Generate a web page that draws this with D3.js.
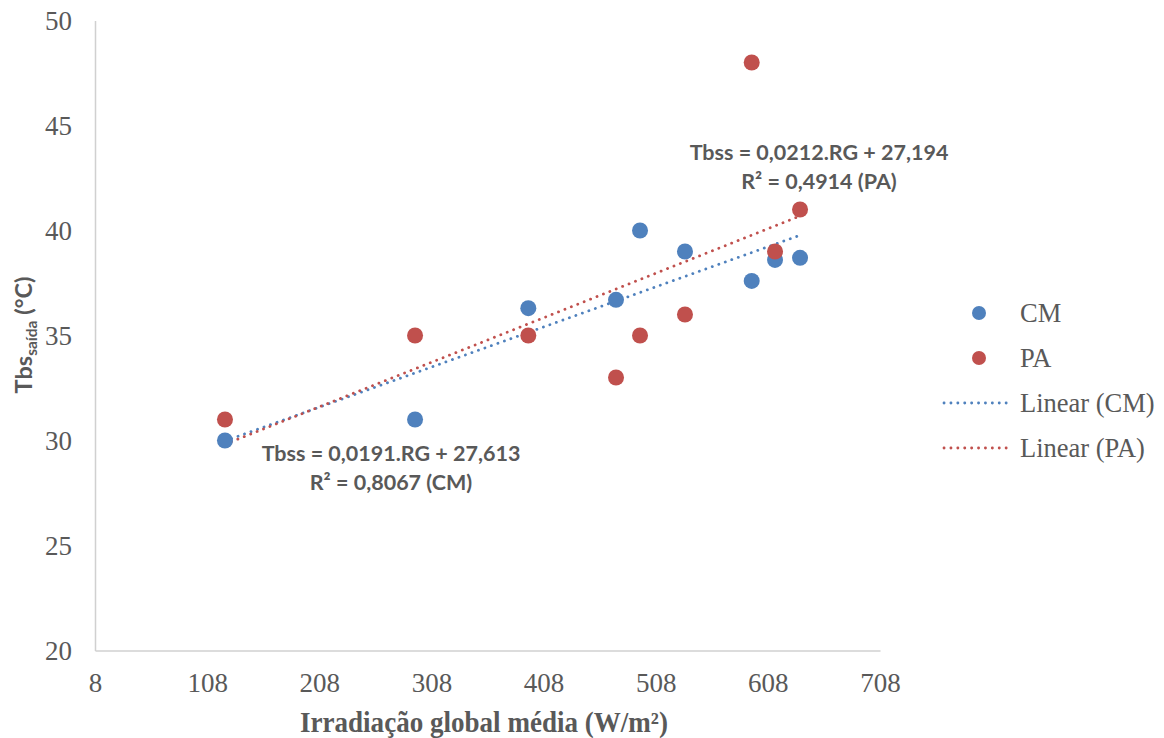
<!DOCTYPE html>
<html>
<head>
<meta charset="utf-8">
<script src="https://cdn.jsdelivr.net/npm/d3@7"></script>
<style>
  html, body { margin: 0; padding: 0; background: #fff; }
  svg { display: block; }
</style>
</head>
<body>
<div id="chart"></div>
<script>
// ---- data ----
const irradiance = [123.9, 293.4, 394.4, 472.6, 494.0, 534.1, 593.6, 614.4, 636.7];
const tbsCM = [30, 31, 36.3, 36.7, 40, 39, 37.6, 38.6, 38.7];
const tbsPA = [31, 35, 35, 33, 35, 36, 48, 39, 41];
const seriesNames = ['CM', 'PA'];
// trend line coefficients, as printed on the chart
const trendSlope = [0.0191, 0.0212];
const trendIntercept = [27.613, 27.194];
const trendEqText = ['Tbss = 0,0191.RG + 27,613', 'Tbss = 0,0212.RG + 27,194'];
const trendR2Text = ['R² = 0,8067 (CM)', 'R² = 0,4914 (PA)'];
const xTicks = [8, 108, 208, 308, 408, 508, 608, 708];
const yTicks = [20, 25, 30, 35, 40, 45, 50];

const width = 1164, height = 738;
const colors = ['#4F81BD', '#C0504D'];
const textGrey = '#595959';
const serif = '"Liberation Serif", "Times New Roman", serif';
const sans = 'Lato, "Open Sans", sans-serif';

const svg = d3.select('#chart').append('svg')
  .attr('width', width)
  .attr('height', height);

const xScale = d3.scaleLinear().domain([8, 708]).range([95, 880]);
const yScale = d3.scaleLinear().domain([20, 50]).range([650.5, 20.5]);

// axes
const xAxis = d3.axisBottom(xScale).tickValues(xTicks).tickSize(0).tickPadding(22);
const yAxis = d3.axisLeft(yScale).tickValues(yTicks).tickSize(0).tickPadding(23);

const gx = svg.append('g')
  .attr('transform', `translate(0,${yScale(20)})`)
  .call(xAxis);
const gy = svg.append('g')
  .attr('transform', `translate(${xScale(8)},0)`)
  .call(yAxis);

[gx, gy].forEach(g => {
  g.select('.domain').attr('stroke', '#D0D0D0').attr('stroke-width', 1.5);
  g.selectAll('text')
    .style('font-family', serif)
    .style('font-size', '27px')
    .attr('fill', textGrey);
});
gy.selectAll('text').attr('dy', '0.33em');

// trend lines
const trend = svg.append('g').attr('class', 'trend-lines');
const xExtent = d3.extent(irradiance);
seriesNames.forEach((name, i) => {
  const pts = xExtent.map(x => [x, trendSlope[i] * x + trendIntercept[i]]);
  trend.append('path')
    .datum(pts)
    .attr('d', d3.line().x(d => xScale(d[0])).y(d => yScale(d[1])))
    .attr('fill', 'none')
    .attr('stroke', colors[i])
    .attr('stroke-width', 2.8)
    .attr('stroke-linecap', 'round')
    .attr('stroke-dasharray', '0.1 6.8');
});

// points
const seriesValues = [tbsCM, tbsPA];
seriesNames.forEach((name, i) => {
  svg.append('g')
    .attr('class', `dots dots--${name}`)
    .selectAll('circle')
    .data(irradiance.map((x, j) => ({ x, y: seriesValues[i][j] })))
    .join('circle')
    .attr('cx', d => xScale(d.x))
    .attr('cy', d => yScale(d.y))
    .attr('r', 8)
    .attr('fill', colors[i]);
});

// equation labels
const eqPos = [[391, 461], [819, 160]];
seriesNames.forEach((name, i) => {
  const g = svg.append('g')
    .style('font-family', sans)
    .style('font-weight', 'bold')
    .style('font-size', '21.5px')
    .attr('fill', textGrey);
  g.append('text')
    .attr('x', eqPos[i][0])
    .attr('y', eqPos[i][1])
    .attr('text-anchor', 'middle')
    .text(trendEqText[i]);
  g.append('text')
    .attr('x', eqPos[i][0])
    .attr('y', eqPos[i][1] + 29)
    .attr('text-anchor', 'middle')
    .text(trendR2Text[i]);
});

// axis titles
svg.append('text')
  .attr('x', 484)
  .attr('y', 732)
  .attr('text-anchor', 'middle')
  .attr('textLength', 368)
  .attr('lengthAdjust', 'spacingAndGlyphs')
  .style('font-family', serif)
  .style('font-weight', 'bold')
  .style('font-size', '29px')
  .attr('fill', textGrey)
  .text('Irradiação global média (W/m²)');

svg.append('text')
  .attr('transform', 'translate(32,335) rotate(-90)')
  .attr('text-anchor', 'middle')
  .style('font-family', sans)
  .style('font-weight', 'bold')
  .style('font-size', '23.5px')
  .attr('fill', textGrey)
  .call(t => {
    t.append('tspan').text('Tbs');
    t.append('tspan').text('saída').attr('dy', 5).style('font-size', '15.5px');
    t.append('tspan').text(' (°C)').attr('dy', -5);
  });

// legend
const legend = svg.append('g').attr('class', 'legend')
  .style('font-family', serif)
  .style('font-size', '26.5px')
  .attr('fill', textGrey);
const legendItems = [
  { label: 'CM', type: 'dot', color: colors[0] },
  { label: 'PA', type: 'dot', color: colors[1] },
  { label: 'Linear (CM)', type: 'line', color: colors[0] },
  { label: 'Linear (PA)', type: 'line', color: colors[1] }
];
legendItems.forEach((item, i) => {
  const y = 313 + i * 45;
  if (item.type === 'dot') {
    legend.append('circle').attr('cx', 979).attr('cy', y).attr('r', 7).attr('fill', item.color);
  } else {
    legend.append('line')
      .attr('x1', 944).attr('x2', 1007).attr('y1', y).attr('y2', y)
      .attr('stroke', item.color)
      .attr('stroke-width', 2.8)
      .attr('stroke-linecap', 'round')
      .attr('stroke-dasharray', '0.1 6.8');
  }
  legend.append('text').attr('x', 1020).attr('y', y).attr('dy', '0.33em').text(item.label);
});
</script>
</body>
</html>
